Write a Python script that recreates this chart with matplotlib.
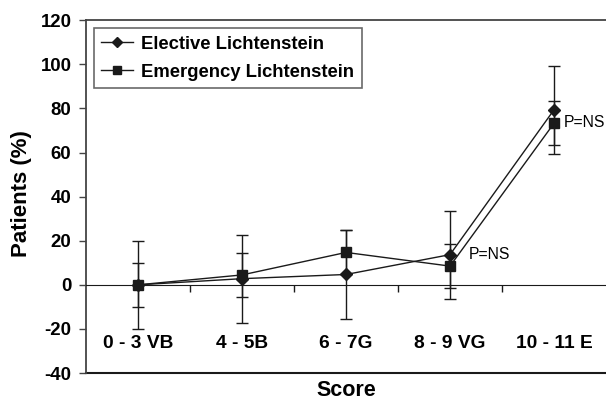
import numpy as np
import matplotlib.pyplot as plt
from matplotlib.lines import Line2D

plt.rcParams['font.family'] = ['Liberation Sans', 'DejaVu Sans']

categories = ['0 - 3 VB', '4 - 5B', '6 - 7G', '8 - 9 VG', '10 - 11 E']
elective = [0, 2.8, 4.7, 13.7, 79.4]
elective_err = [20, 20, 20, 20, 20]
emergency = [0, 4.5, 14.7, 8.5, 73.3]
emergency_err = [10, 10, 10, 10, 10]
yticks = [-40, -20, 0, 20, 40, 60, 80, 100, 120]

ink = '#1a1a1a'
fig = plt.figure(figsize=(6.06, 4.04), dpi=100)
ax = fig.add_axes([0.142, 0.0767, 0.858, 0.873])

x = np.arange(len(categories)) + 0.5
ax.errorbar(x, elective, yerr=elective_err, color=ink, lw=1, marker='D', ms=6,
            capsize=4, elinewidth=1, capthick=1)
ax.errorbar(x, emergency, yerr=emergency_err, color=ink, lw=1, marker='s', ms=7.5,
            capsize=4, elinewidth=1, capthick=1)

ax.set_xlim(0, len(categories))
ax.set_ylim(-40, 120)
ax.set_yticks(yticks)
ax.set_yticklabels([str(v) for v in yticks], fontsize=13.4, fontweight='bold')
ax.tick_params(axis='y', direction='out', length=5, width=1, color='#444444', pad=5.5)

# category axis crosses at zero
ax.spines['bottom'].set_position(('data', 0))
ax.set_xticks(np.arange(1, len(categories)))
ax.set_xticklabels([])
ax.tick_params(axis='x', direction='out', length=5, width=1, color=ink)
ax.spines['right'].set_visible(False)
for s in ['left', 'top']:
    ax.spines[s].set_color('#444444')
    ax.spines[s].set_linewidth(1.3)
ax.spines['bottom'].set_color(ink)
ax.axhline(-40, color=ink, lw=1.5, clip_on=False)

for xi, name in zip(x, categories):
    ax.text(xi, -26.5, name, ha='center', va='center', fontsize=13.8, fontweight='bold')

ax.text(x[3] + 0.18, elective[3], 'P=NS', ha='left', va='center', fontsize=11.3)
ax.text(x[4] + 0.09, emergency[4] + 0.5, 'P=NS', ha='left', va='center', fontsize=11.3)

fig.text(0.036, 0.52, 'Patients (%)', rotation=90, ha='center', va='center',
         fontsize=16, fontweight='bold')
fig.text(0.572, 0.008, 'Score', ha='center', va='bottom', fontsize=15.5, fontweight='bold')

handles = [Line2D([], [], color=ink, lw=1, marker='D', ms=5),
           Line2D([], [], color=ink, lw=1, marker='s', ms=6)]
leg = ax.legend(handles, ['Elective Lichtenstein', 'Emergency Lichtenstein'],
                loc='upper left', bbox_to_anchor=(0.0154, 0.977), fancybox=False,
                frameon=True, edgecolor='#444444', prop={'weight': 'bold', 'size': 13.3},
                handlelength=1.7, handletextpad=0.45, borderpad=0.4, labelspacing=0.6,
                borderaxespad=0)
leg.get_frame().set_linewidth(1.2)

fig.savefig('out.png', dpi=100)
